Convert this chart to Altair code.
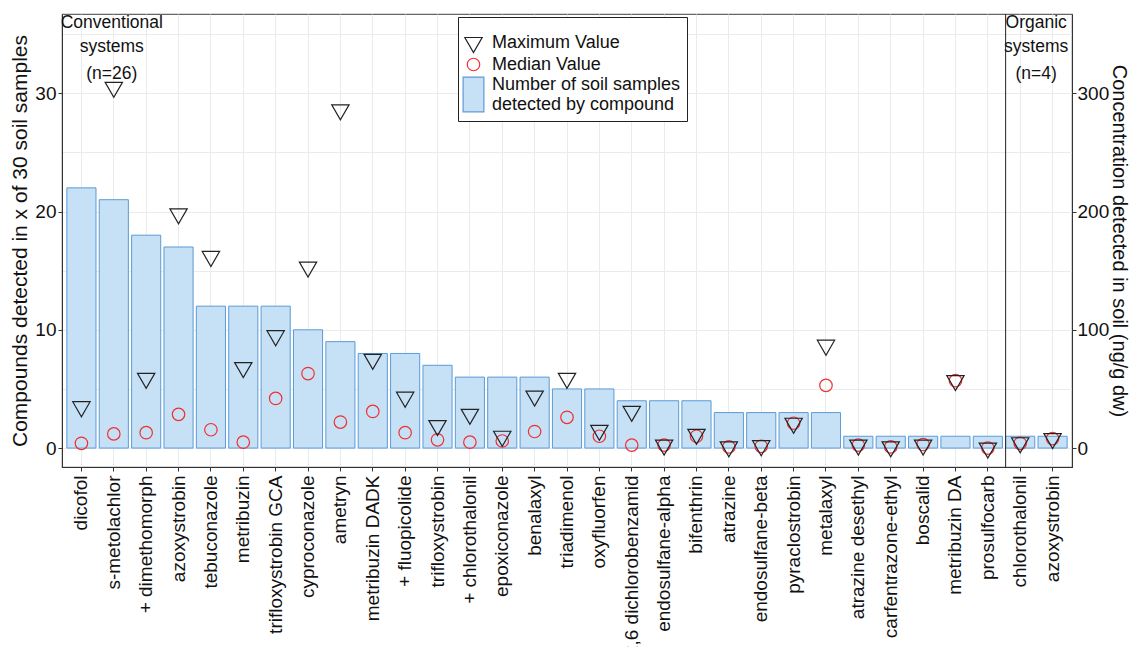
import json
import altair as alt
import pandas as pd

names = ["dicofol", "s-metolachlor", "+ dimethomorph", "azoxystrobin", "tebuconazole",
         "metribuzin", "trifloxystrobin GCA", "cyproconazole", "ametryn", "metribuzin DADK",
         "+ fluopicolide", "trifloxystrobin", "+ chlorothalonil", "epoxiconazole", "benalaxyl",
         "triadimenol", "oxyfluorfen", "2,6 dichlorobenzamid", "endosulfane-alpha", "bifenthrin",
         "atrazine", "endosulfane-beta", "pyraclostrobin", "metalaxyl", "atrazine desethyl",
         "carfentrazone-ethyl", "boscalid", "metribuzin DA", "prosulfocarb", "chlorothalonil",
         "azoxystrobin"]
counts = [22, 21, 18, 17, 12, 12, 12, 10, 9, 8, 8, 7, 6, 6, 6, 5, 5, 4, 4, 4,
          3, 3, 3, 3, 1, 1, 1, 1, 1, 1, 1]
max_vals = [35, 305, 59, 198, 162, 68, 95, 153, 286, 75, 43, 19, 28.5, 10, 44, 59, 15, 31,
            2.5, 11.6, 1, 2, 21, 87, 2.5, 1, 2.5, 57, 0, 4.5, 8]
median_vals = [4, 12, 13, 28.5, 15.5, 5, 42, 63, 22, 31, 13, 7, 5, 6, 14, 26, 10, 2.5,
               2.5, 10, 1, 1.5, 21, 53, 2.5, 1, 3, 57, 0, 4, 8]

conv_text = ["Conventional", "systems", "(n=26)"]
org_text = ["Organic", "systems", "(n=4)"]
text_y = [35.9, 33.9, 31.6]

S_MAX = "Maximum Value"
S_MED = "Median Value"
S_BAR = "Number of soil samples detected by compound"

n = len(names)
idx = list(range(n))

bars_df = pd.DataFrame({"idx": idx, "count": counts, "series": S_BAR})
pts_df = pd.concat([
    pd.DataFrame({"idx": idx, "value": median_vals, "series": S_MED}),
    pd.DataFrame({"idx": idx, "value": max_vals, "series": S_MAX}),
])
conv_df = pd.DataFrame({"idx": [1] * 3, "y": text_y, "text": conv_text})
org_df = pd.DataFrame({"idx": [29] * 3, "y": text_y, "text": org_text})
sep_df = pd.DataFrame({"idx": [29]})

FONT = "Liberation Sans"
W, H = 1010, 453

label_expr = json.dumps(names) + "[datum.value]"
xscale = alt.Scale(domain=idx, paddingInner=0.1, paddingOuter=0.15)
xaxis = alt.Axis(labelExpr=label_expr, labelAngle=-90, labelFontSize=19, labelLimit=400,
                 labelPadding=4, grid=True, ticks=True, tickSize=4)
xenc = alt.X("idx:O", scale=xscale, title=None, axis=xaxis)

left_scale = alt.Scale(domain=[-1.6, 36.7], nice=False, zero=False)
right_scale = alt.Scale(domain=[-16, 367], nice=False, zero=False)

tri = "M-1,-0.577L1,-0.577L0,1.155Z"
circ = "M0.72,0A0.72,0.72 0 1,1 -0.72,0A0.72,0.72 0 1,1 0.72,0Z"
# legend rectangle, shifted down half a text line so it sits beside both label lines
rect = "M-1.2,-0.85L1.2,-0.85L1.2,3.15L-1.2,3.15Z"
dom = [S_MAX, S_MED, S_BAR]
shape_scale = alt.Scale(domain=dom, range=[tri, circ, rect])
stroke_scale = alt.Scale(domain=dom, range=["#222222", "#f03030", "#5b9bd5"])
fill_scale = alt.Scale(domain=dom, range=["transparent", "transparent", "#c6e0f6"])

legend = alt.Legend(
    title=" ", orient="none", legendX=396, legendY=3,
    labelExpr="datum.label == '" + S_BAR + "' ? ['Number of soil samples', 'detected by compound'] : datum.label",
)

bars = alt.Chart(bars_df).mark_bar(strokeWidth=1).encode(
    x=xenc,
    y=alt.Y("count:Q", scale=left_scale,
            axis=alt.Axis(title="Compounds detected in x of 30 soil samples",
                          values=[0, 5, 10, 15, 20, 25, 30, 35],
                          labelExpr="datum.value % 10 == 0 ? datum.label : ''",
                          tickColor={"condition": {"test": "datum.value % 10 == 0", "value": "#333333"},
                                     "value": "transparent"},
                          grid=True, tickSize=4, titlePadding=4)),
    y2=alt.datum(0),
    fill=alt.Fill("series:N", scale=fill_scale, legend=legend),
    stroke=alt.Stroke("series:N", scale=stroke_scale, legend=legend),
)

conv = alt.Chart(conv_df).mark_text(fontSize=17.5, font=FONT, dx=-2, color="#111").encode(
    x=xenc,
    y=alt.Y("y:Q", scale=left_scale, axis=None),
    text="text:N",
)
org = alt.Chart(org_df).mark_text(fontSize=17.5, font=FONT, dx=16, color="#111").encode(
    x=xenc,
    y=alt.Y("y:Q", scale=left_scale, axis=None),
    text="text:N",
)

sep = alt.Chart(sep_df).mark_rule(color="#222222", strokeWidth=1).encode(
    x=alt.X("idx:O", scale=xscale, bandPosition=0, title=None, axis=xaxis),
    y=alt.value(0),
    y2=alt.value(H),
)

pts = alt.Chart(pts_df).mark_point(opacity=1, strokeWidth=1.2, size=300).encode(
    x=xenc,
    y=alt.Y("value:Q", scale=right_scale,
            axis=alt.Axis(orient="right", values=[0, 100, 200, 300], grid=False, tickSize=4,
                          labelPadding=1, titlePadding=0, titleFontSize=20,
                          title="Concentration detected in soil (ng/g dw)")),
    shape=alt.Shape("series:N", scale=shape_scale, legend=legend),
    stroke=alt.Stroke("series:N", scale=stroke_scale, legend=legend),
    fill=alt.Fill("series:N", scale=fill_scale, legend=legend),
)

chart = alt.layer(bars, conv, org, sep, pts).resolve_scale(y="independent").properties(
    width=W, height=H,
    autosize=alt.AutoSizeParams(type="none"),
    padding={"left": 54, "top": 6, "right": 58, "bottom": 180},
).configure_view(stroke="#666666", strokeWidth=1.2).configure_axis(
    labelFont=FONT, titleFont=FONT, labelFontSize=19, titleFontSize=21, titleFontWeight="normal",
    labelColor="#111", titleColor="#111", domainColor="#333333", tickColor="#333333",
    gridColor="#ebebeb", gridWidth=1,
).configure_legend(
    labelFont=FONT, labelFontSize=18, labelColor="#111", symbolSize=300, symbolStrokeWidth=1.2,
    symbolOpacity=1, strokeColor="#222222", fillColor="white", padding=6, labelOffset=9,
    titleFontSize=8, titlePadding=2, rowPadding=0, labelLimit=400,
)

chart.save("out.html", embed_options={"renderer": "svg", "actions": False})
